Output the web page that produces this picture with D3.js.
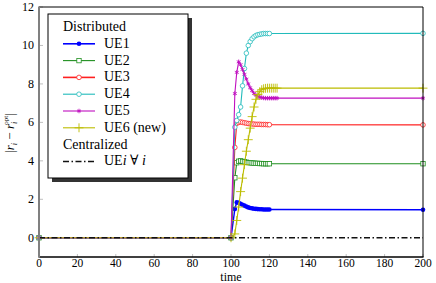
<!DOCTYPE html>
<html>
<head>
<meta charset="utf-8">
<script src="https://cdn.jsdelivr.net/npm/d3@7"></script>
<style>
  body { margin: 0; background: #fff; }
</style>
</head>
<body>
<svg id="chart" width="436" height="283" font-family="'Liberation Serif', 'DejaVu Serif', 'Times New Roman', serif"></svg>
<script>
// data
const xTicks = [0, 20, 40, 60, 80, 100, 120, 140, 160, 180, 200];
const yTicks = [0, 2, 4, 6, 8, 10, 12];

// every UE sits at zero until the new UE joins at t = 100
const idleTime = [0, 100];
const transientTime = [102, 103, 104, 105, 106, 107, 108, 109, 110, 111, 112, 113, 114, 115, 116, 117, 118, 119, 120];
const longTail = [121, 122, 123, 124];
const endTime = 200;

const ue1 = [1.50, 1.84, 1.82, 1.77, 1.72, 1.67, 1.62, 1.58, 1.55, 1.53, 1.51, 1.50, 1.49, 1.48, 1.48, 1.47, 1.47, 1.47, 1.47];
const ue2 = [3.12, 3.90, 3.98, 4.00, 3.97, 3.95, 3.93, 3.91, 3.90, 3.89, 3.88, 3.87, 3.87, 3.86, 3.86, 3.85, 3.85, 3.85, 3.85];
const ue3 = [4.70, 5.95, 6.00, 6.02, 6.00, 5.98, 5.96, 5.94, 5.93, 5.92, 5.91, 5.90, 5.90, 5.90, 5.89, 5.89, 5.89, 5.88, 5.88];
const ue4 = [5.75, 6.10, 6.40, 6.80, 7.90, 8.80, 9.60, 10.0, 10.2, 10.35, 10.45, 10.52, 10.56, 10.58, 10.60, 10.62, 10.62, 10.62, 10.62];
const ue5 = [7.50, 8.60, 9.15, 9.00, 8.75, 8.50, 8.25, 8.00, 7.80, 7.65, 7.50, 7.42, 7.35, 7.31, 7.29, 7.27, 7.26, 7.26, 7.26];
const ue6 = [0.20, 0.90, 1.60, 2.40, 3.10, 3.80, 4.50, 5.10, 5.70, 6.30, 6.80, 7.20, 7.45, 7.60, 7.70, 7.75, 7.77, 7.78, 7.78];
const ue5Tail = [7.26, 7.26, 7.26, 7.26];
const ue6Tail = [7.78, 7.78, 7.78, 7.78];
const finalValues = [1.46, 3.85, 5.87, 10.63, 7.26, 7.78];

const seriesNames = ["UE1", "UE2", "UE3", "UE4", "UE5", "UE6 (new)"];
const seriesColors = ["#0000ff", "#1f8f1f", "#ff2020", "#22bbbb", "#c010c0", "#bcbc00"];

const svg = d3.select("#chart");
const plotLeft = 39, plotRight = 423, plotTop = 7, plotBottom = 257;

const x = d3.scaleLinear().domain([0, 200]).range([plotLeft, plotRight]);
const y = d3.scaleLinear().domain([-1, 12]).range([plotBottom, plotTop]);

// build point lists for each series
const transients = [ue1, ue2, ue3, ue4, ue5, ue6];
const tails = [[], [], [], [], ue5Tail, ue6Tail];
const series = transients.map((vals, k) => {
  const pts = idleTime.map(t => [t, 0]);
  transientTime.forEach((t, j) => pts.push([t, vals[j]]));
  tails[k].forEach((v, j) => pts.push([longTail[j], v]));
  pts.push([endTime, finalValues[k]]);
  return pts;
});

// marker painters
function marker(g, k, px, py) {
  const c = seriesColors[k];
  if (k === 0) {
    g.append("circle").attr("cx", px).attr("cy", py).attr("r", 2.3).attr("fill", c);
  } else if (k === 1) {
    g.append("rect").attr("x", px - 2.2).attr("y", py - 2.2).attr("width", 4.4).attr("height", 4.4)
      .attr("fill", "#fff").attr("stroke", c).attr("stroke-width", 0.8);
  } else if (k === 2 || k === 3) {
    g.append("circle").attr("cx", px).attr("cy", py).attr("r", 2.3)
      .attr("fill", "#fff").attr("stroke", c).attr("stroke-width", 0.8);
  } else if (k === 4) {
    g.append("path").attr("transform", `translate(${px},${py})`)
      .attr("d", d3.symbol(d3.symbolAsterisk, 14)())
      .attr("fill", "none").attr("stroke", c).attr("stroke-width", 0.9);
  } else {
    g.append("path").attr("transform", `translate(${px},${py})`)
      .attr("d", d3.symbol(d3.symbolPlus, 28)())
      .attr("fill", "none").attr("stroke", c).attr("stroke-width", 0.9);
  }
}

// ticks (grey, pointing inward)
const tickG = svg.append("g").attr("stroke", "#b0b0b0").attr("stroke-width", 0.8);
xTicks.forEach(t => tickG.append("line").attr("x1", x(t)).attr("x2", x(t)).attr("y1", plotBottom).attr("y2", plotBottom - 3));
yTicks.forEach(t => tickG.append("line").attr("x1", plotLeft).attr("x2", plotLeft + 4).attr("y1", y(t)).attr("y2", y(t)));

// series lines and markers
const line = d3.line().x(d => x(d[0])).y(d => y(d[1]));
const plot = svg.append("g");
series.forEach((pts, k) => {
  const g = plot.append("g");
  g.append("path").attr("d", line(pts)).attr("fill", "none")
    .attr("stroke", seriesColors[k]).attr("stroke-width", k === 0 ? 1.4 : 1.1);
  pts.forEach(d => marker(g, k, x(d[0]), y(d[1])));
});

// centralized solution (zero for every UE)
const dashDot = "6,2.5,1.5,2.5";
plot.append("line").attr("x1", x(0)).attr("x2", x(200)).attr("y1", y(0)).attr("y2", y(0))
  .attr("stroke", "#111").attr("stroke-width", 1.5).attr("stroke-dasharray", dashDot);

// frame
svg.append("line").attr("x1", plotLeft).attr("x2", plotRight).attr("y1", plotTop).attr("y2", plotTop).attr("stroke", "#000").attr("stroke-width", 1);
svg.append("line").attr("x1", plotRight).attr("x2", plotRight).attr("y1", plotTop).attr("y2", plotBottom).attr("stroke", "#000").attr("stroke-width", 1);
svg.append("line").attr("x1", plotLeft).attr("x2", plotRight + 0.5).attr("y1", plotBottom).attr("y2", plotBottom).attr("stroke", "#000").attr("stroke-width", 1.4);
svg.append("line").attr("x1", plotLeft).attr("x2", plotLeft).attr("y1", plotTop - 0.5).attr("y2", plotBottom + 0.7).attr("stroke", "#808080").attr("stroke-width", 2);

// tick labels
svg.append("g").selectAll("text").data(xTicks).join("text")
  .attr("x", d => x(d)).attr("y", 267).attr("text-anchor", "middle")
  .attr("font-size", 11.5).text(d => d);
svg.append("g").selectAll("text").data(yTicks).join("text")
  .attr("x", 34).attr("y", d => y(d) + 4).attr("text-anchor", "end")
  .attr("font-size", 12).text(d => d);

// axis labels
svg.append("text").attr("x", x(100)).attr("y", 281).attr("text-anchor", "middle")
  .attr("font-size", 12).text("time");

const yl = svg.append("text").attr("transform", "translate(14,133) rotate(-90)")
  .attr("text-anchor", "middle").attr("font-size", 13);
yl.append("tspan").text("|");
yl.append("tspan").attr("font-style", "italic").text("r");
yl.append("tspan").attr("font-size", 8).attr("font-style", "italic").attr("dy", 3).text("i");
yl.append("tspan").attr("dy", -3).text(" − ");
yl.append("tspan").attr("font-style", "italic").text("r");
yl.append("tspan").attr("font-size", 8).attr("font-style", "italic").attr("dy", 3).text("i");
yl.append("tspan").attr("font-size", 7).attr("dx", -3).attr("dy", -9).text("opt");
yl.append("tspan").attr("dy", 6).text("|");

// legend
const lg = svg.append("g");
const lx = 48, ly = 14, lw = 140, lh = 164;
lg.append("rect").attr("x", lx + 4).attr("y", ly + 4).attr("width", lw).attr("height", lh).attr("fill", "#333");
lg.append("rect").attr("x", lx).attr("y", ly).attr("width", lw).attr("height", lh)
  .attr("fill", "#fff").attr("stroke", "#000").attr("stroke-width", 1);

const fs = 14;
const rowY = d3.scaleLinear().domain([0, 1]).range([31, 47.8]);
lg.append("text").attr("x", 63).attr("y", rowY(0)).attr("font-size", fs).text("Distributed");
seriesNames.forEach((name, k) => {
  const ry = rowY(k + 1);
  const g = lg.append("g");
  g.append("line").attr("x1", 63).attr("x2", 95).attr("y1", ry - 4).attr("y2", ry - 4)
    .attr("stroke", seriesColors[k]).attr("stroke-width", k === 0 || k === 2 ? 1.6 : 1.1);
  marker(g, k, 79, ry - 4);
  g.append("text").attr("x", 104).attr("y", ry).attr("font-size", fs).text(name);
});
lg.append("text").attr("x", 63).attr("y", rowY(7)).attr("font-size", fs).text("Centralized");
lg.append("line").attr("x1", 63).attr("x2", 95).attr("y1", rowY(8) - 4).attr("y2", rowY(8) - 4)
  .attr("stroke", "#111").attr("stroke-width", 1.5).attr("stroke-dasharray", dashDot);
const ct = lg.append("text").attr("x", 104).attr("y", rowY(8)).attr("font-size", fs);
ct.append("tspan").text("UE");
ct.append("tspan").attr("font-style", "italic").text("i");
ct.append("tspan").text(" ∀ ");
ct.append("tspan").attr("font-style", "italic").text("i");
</script>
</body>
</html>
